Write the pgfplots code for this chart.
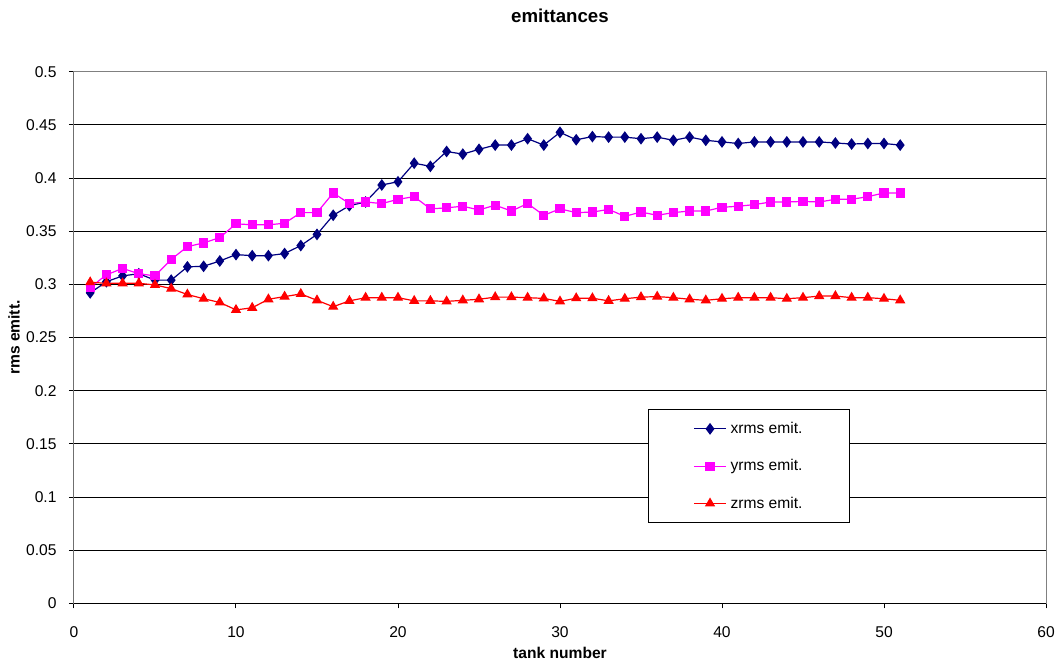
\documentclass[border=0pt]{standalone}
\usepackage{pgfplots}
\usepackage{pgfplotstable}
\pgfplotsset{compat=1.18}
\usepackage{fontspec}
\setmainfont{Liberation Sans}
\definecolor{xcol}{RGB}{0,0,128}
\definecolor{ycol}{RGB}{255,0,255}
\definecolor{zcol}{RGB}{255,0,0}

\pgfplotstableread{
n x y z
1 0.292 0.297 0.302
2 0.3025 0.309 0.301
3 0.308 0.315 0.301
4 0.310 0.310 0.301
5 0.304 0.308 0.2995
6 0.304 0.3235 0.296
7 0.3165 0.3355 0.2905
8 0.317 0.339 0.2865
9 0.322 0.344 0.283
10 0.328 0.357 0.276
11 0.327 0.356 0.278
12 0.327 0.356 0.286
13 0.329 0.3575 0.2885
14 0.3365 0.3675 0.291
15 0.347 0.3675 0.285
16 0.365 0.386 0.279
17 0.374 0.376 0.2845
18 0.3775 0.3775 0.2875
19 0.3935 0.376 0.2875
20 0.3965 0.380 0.2875
21 0.414 0.3825 0.2845
22 0.411 0.371 0.2845
23 0.425 0.372 0.284
24 0.4225 0.3735 0.285
25 0.427 0.370 0.286
26 0.431 0.3745 0.288
27 0.431 0.369 0.288
28 0.437 0.376 0.2875
29 0.431 0.365 0.2868
30 0.443 0.371 0.284
31 0.436 0.3675 0.287
32 0.439 0.368 0.287
33 0.4385 0.3705 0.2845
34 0.4385 0.364 0.2865
35 0.437 0.368 0.288
36 0.4385 0.365 0.2885
37 0.4355 0.3675 0.2875
38 0.4385 0.369 0.286
39 0.4355 0.369 0.285
40 0.434 0.3725 0.2865
41 0.4325 0.3735 0.2875
42 0.434 0.375 0.2875
43 0.434 0.3775 0.2875
44 0.434 0.3775 0.2865
45 0.434 0.378 0.2875
46 0.434 0.3775 0.289
47 0.433 0.380 0.289
48 0.432 0.380 0.2875
49 0.4325 0.3825 0.2875
50 0.4325 0.386 0.2865
51 0.431 0.386 0.285
}\data

\begin{document}
\begin{tikzpicture}
\useasboundingbox (-55.5pt,-46.3pt) rectangle (738pt,452.5pt);
\begin{axis}[
  at={(0,0)}, anchor=south west,
  width=729pt, height=398.7pt, scale only axis,
  xmin=0, xmax=60, ymin=0, ymax=0.5,
  xtick={0,10,20,30,40,50,60},
  ytick={0,0.05,0.1,0.15,0.2,0.25,0.3,0.35,0.4,0.45,0.5},
  scaled y ticks=false,
  yticklabel style={/pgf/number format/fixed, /pgf/number format/precision=2},
  /pgf/number format/assume math mode=true,
  tick label style={font=\fontsize{11.7}{14}\selectfont},
  xticklabel style={anchor=center, inner sep=0pt, yshift=-18.2pt},
  yticklabel style={anchor=east, inner sep=0pt, xshift=-9.2pt},
  tick align=outside,
  major tick length=3.75pt,
  xtick pos=bottom, ytick pos=left,
  tick style={black, line width=0.75pt},
  axis line style={draw=gray, line width=0.75pt},
  ymajorgrids,
  major grid style={black, line width=0.7pt},
  title={emittances},
  title style={at={(axis description cs:0.5,1.0898)}, anchor=center, font=\bfseries\fontsize{14}{16}\selectfont},
  xlabel={tank number},
  xlabel style={at={(axis description cs:0.5,-0.0936)}, anchor=center, font=\bfseries\fontsize{11.7}{14}\selectfont},
  ylabel={rms emitt.},
  ylabel style={at={(axis description cs:-0.0617,0.5)}, anchor=center, font=\bfseries\fontsize{11.7}{14}\selectfont},
  legend cell align=left,
  legend image code/.code={\draw[mark repeat=2,mark phase=2] plot coordinates {(0pt,0pt) (12pt,0pt) (24pt,0pt)};},
  legend style={
    at={(0.5908,0.3655)}, anchor=north west,
    draw=black, line width=0.75pt, fill=white,
    inner xsep=33.5pt, inner ysep=7.5pt,
    row sep=14pt,
    font=\fontsize{11.7}{14}\selectfont,
    /tikz/every odd column/.append style={column sep=1pt},
  },
]
\addplot[xcol, line width=0.9pt, mark=diamond*, mark size=3.7pt, mark options={solid, fill=xcol}] table[x=n,y=x]{\data};
\addlegendentry{xrms emit.}
\addplot[ycol, line width=0.9pt, mark=square*, mark size=3pt, mark options={solid, fill=ycol}] table[x=n,y=y]{\data};
\addlegendentry{yrms emit.}
\addplot[zcol, line width=0.9pt, mark=triangle*, mark size=3.6pt, mark options={solid, fill=zcol}] table[x=n,y=z]{\data};
\addlegendentry{zrms emit.}
\draw[black, line width=0.75pt] (rel axis cs:0,1) -- (rel axis cs:0,0) -- (rel axis cs:1,0);
\end{axis}
\end{tikzpicture}
\end{document}
